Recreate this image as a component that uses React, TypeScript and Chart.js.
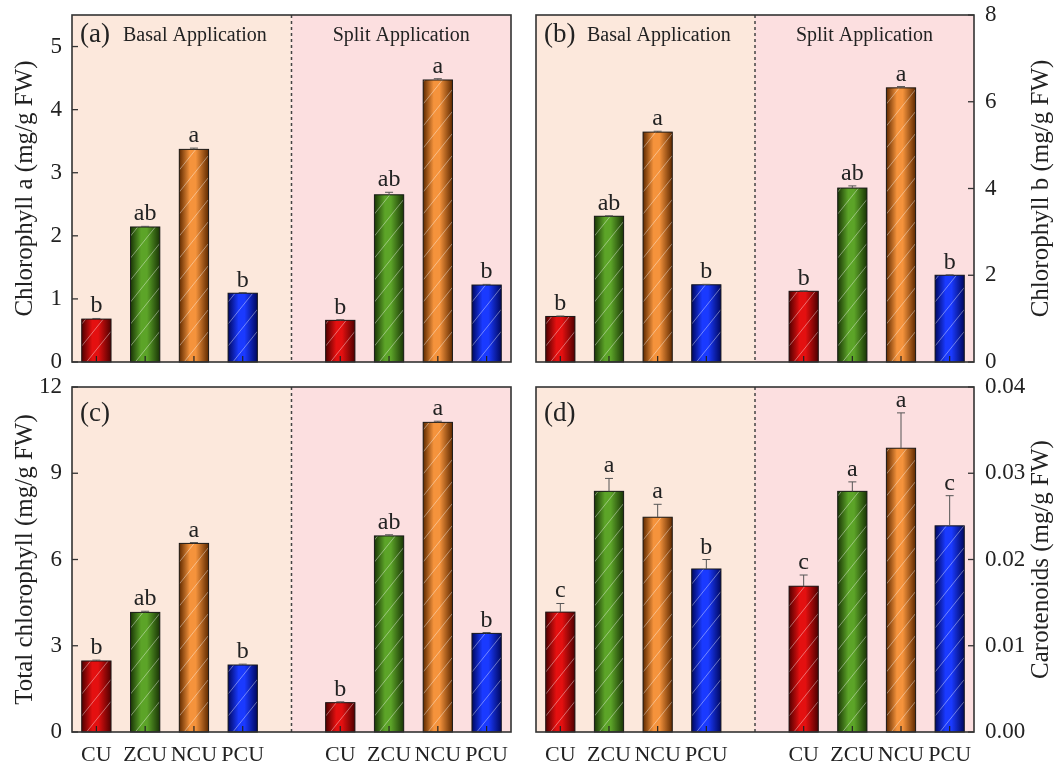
import { useEffect, useRef } from "react";
import { Chart, registerables } from "chart.js";

Chart.register(...registerables);

Chart.defaults.font.family = "'Liberation Serif', 'Times New Roman', serif";
Chart.defaults.color = "#222";

// x categories: basal group, empty spacer slot, split group
const categories = ["CU", "ZCU", "NCU", "PCU", "", "CU", "ZCU", "NCU", "PCU"];

// (a) chlorophyll a
const chlABasal = [0.68, 2.14, 3.37, 1.09];
const chlASplit = [0.66, 2.65, 4.47, 1.22];
const chlABasalErr = [0.01, 0.01, 0.02, 0.01];
const chlASplitErr = [0.01, 0.04, 0.02, 0.01];
const chlALetters = ["b", "ab", "a", "b", "b", "ab", "a", "b"];
const chlATicks = [0, 1, 2, 3, 4, 5];

// (b) chlorophyll b
const chlBBasal = [1.05, 3.36, 5.3, 1.78];
const chlBSplit = [1.63, 4.01, 6.32, 2.0];
const chlBBasalErr = [0.01, 0.01, 0.02, 0.01];
const chlBSplitErr = [0.01, 0.05, 0.03, 0.01];
const chlBLetters = ["b", "ab", "a", "b", "b", "ab", "a", "b"];
const chlBTicks = [0, 2, 4, 6, 8];

// (c) total chlorophyll
const totalBasal = [2.47, 4.16, 6.56, 2.33];
const totalSplit = [1.02, 6.82, 10.77, 3.43];
const totalBasalErr = [0.03, 0.04, 0.03, 0.03];
const totalSplitErr = [0.03, 0.04, 0.04, 0.03];
const totalLetters = ["b", "ab", "a", "b", "b", "ab", "a", "b"];
const totalTicks = [0, 3, 6, 9, 12];

// (d) carotenoids
const carBasal = [0.0139, 0.0279, 0.0249, 0.0189];
const carSplit = [0.0169, 0.0279, 0.0329, 0.0239];
const carBasalErr = [0.001, 0.0015, 0.0015, 0.0011];
const carSplitErr = [0.0013, 0.0011, 0.0041, 0.0035];
const carLetters = ["c", "a", "a", "b", "c", "a", "a", "c"];
const carTicks = [0, 0.01, 0.02, 0.03, 0.04];

const brightColors = ["#e41010", "#5ca428", "#f5933c", "#1a3aff"];
const darkColors = ["#500000", "#1a3606", "#602a00", "#000860"];
const basalBg = "#fce8dc";
const splitBg = "#fcdfe0";

type PanelSpec = {
  tag: string;
  title: string;
  basal: number[];
  split: number[];
  basalErr: number[];
  splitErr: number[];
  letters: string[];
  yMax: number;
  yTicks: number[];
  decimals: number;
  side: "left" | "right";
  headings: boolean;
  showX: boolean;
  left: number;
  top: number;
  width: number;
  height: number;
};

const panels: PanelSpec[] = [
  {
    tag: "(a)", title: "Chlorophyll a (mg/g FW)",
    basal: chlABasal, split: chlASplit, basalErr: chlABasalErr, splitErr: chlASplitErr,
    letters: chlALetters, yMax: 5.5, yTicks: chlATicks, decimals: 0,
    side: "left", headings: true, showX: false, left: 0, top: 0, width: 523, height: 375,
  },
  {
    tag: "(b)", title: "Chlorophyll b (mg/g FW)",
    basal: chlBBasal, split: chlBSplit, basalErr: chlBBasalErr, splitErr: chlBSplitErr,
    letters: chlBLetters, yMax: 8, yTicks: chlBTicks, decimals: 0,
    side: "right", headings: true, showX: false, left: 523, top: 0, width: 534, height: 375,
  },
  {
    tag: "(c)", title: "Total chlorophyll (mg/g FW)",
    basal: totalBasal, split: totalSplit, basalErr: totalBasalErr, splitErr: totalSplitErr,
    letters: totalLetters, yMax: 12, yTicks: totalTicks, decimals: 0,
    side: "left", headings: false, showX: true, left: 0, top: 375, width: 523, height: 392,
  },
  {
    tag: "(d)", title: "Carotenoids (mg/g FW)",
    basal: carBasal, split: carSplit, basalErr: carBasalErr, splitErr: carSplitErr,
    letters: carLetters, yMax: 0.04, yTicks: carTicks, decimals: 2,
    side: "right", headings: false, showX: true, left: 523, top: 375, width: 534, height: 392,
  },
];

function Panel({ spec }: { spec: PanelSpec }) {
  const canvasRef = useRef<HTMLCanvasElement>(null);

  useEffect(() => {
    if (!canvasRef.current) return;
    const values = [...spec.basal, null, ...spec.split];
    const errs = [...spec.basalErr, 0, ...spec.splitErr];
    const letters = [...spec.letters.slice(0, 4), "", ...spec.letters.slice(4)];
    const colors = [...brightColors, "transparent", ...brightColors];
    const isLeft = spec.side === "left";
    const topPad = spec.showX ? 12 : 15;
    const xHeight = spec.showX ? 35 : 13;

    const decor = {
      id: "panelDecor",
      beforeDraw(chart: Chart) {
        const { ctx, chartArea: a } = chart;
        const mid = chart.scales.x.getPixelForValue(4);
        ctx.save();
        ctx.fillStyle = basalBg;
        ctx.fillRect(a.left, a.top, mid - a.left, a.bottom - a.top);
        ctx.fillStyle = splitBg;
        ctx.fillRect(mid, a.top, a.right - mid, a.bottom - a.top);
        ctx.restore();
      },
      afterDatasetsDraw(chart: Chart) {
        const { ctx, chartArea: a } = chart;
        const yScale = chart.scales.y;
        const meta = chart.getDatasetMeta(0);
        ctx.save();
        meta.data.forEach((el: any, i: number) => {
          const v = values[i];
          if (v == null) return;
          const ci = i < 4 ? i : i - 5;
          const { x: cx, y: top, base, width } = el.getProps(["x", "y", "base", "width"], true);
          const l = cx - width / 2;
          const r = cx + width / 2;
          const h = base - top;

          // cylinder-like shading
          const g = ctx.createLinearGradient(l, 0, r, 0);
          g.addColorStop(0, darkColors[ci]);
          g.addColorStop(0.36, brightColors[ci]);
          g.addColorStop(0.56, brightColors[ci]);
          g.addColorStop(1, darkColors[ci]);
          ctx.fillStyle = g;
          ctx.fillRect(l, top, width, h);

          // white diagonal hatch
          ctx.save();
          ctx.beginPath();
          ctx.rect(l, top, width, h);
          ctx.clip();
          ctx.strokeStyle = "rgba(255,255,255,0.5)";
          ctx.lineWidth = 0.8;
          for (let k = 0; k < h + width * 1.3; k += 22) {
            ctx.beginPath();
            ctx.moveTo(l, base - k + 6);
            ctx.lineTo(r, base - k + 6 - width * 1.25);
            ctx.stroke();
          }
          ctx.restore();

          ctx.strokeStyle = "#1a1a1a";
          ctx.lineWidth = 1;
          ctx.strokeRect(l, top, width, h);

          // error bar
          const yTop = yScale.getPixelForValue(v + errs[i]);
          ctx.strokeStyle = "#555";
          ctx.lineWidth = 1;
          ctx.beginPath();
          ctx.moveTo(cx, top);
          ctx.lineTo(cx, yTop);
          ctx.moveTo(cx - 4, yTop);
          ctx.lineTo(cx + 4, yTop);
          ctx.stroke();

          // significance letter
          ctx.fillStyle = "#222";
          ctx.font = "24px 'Liberation Serif'";
          ctx.textAlign = "center";
          ctx.textBaseline = "alphabetic";
          ctx.fillText(letters[i], cx, yTop - 6);

          // inner x tick
          ctx.strokeStyle = "#222";
          ctx.lineWidth = 1.2;
          ctx.beginPath();
          ctx.moveTo(cx, a.bottom);
          ctx.lineTo(cx, a.bottom - 6);
          ctx.stroke();
        });
        ctx.restore();
      },
      afterDraw(chart: Chart) {
        const { ctx, chartArea: a } = chart;
        const yScale = chart.scales.y;
        const mid = chart.scales.x.getPixelForValue(4);
        ctx.save();

        // dashed separator
        ctx.strokeStyle = "#444";
        ctx.lineWidth = 1.5;
        ctx.setLineDash([3, 3]);
        ctx.beginPath();
        ctx.moveTo(mid, a.top);
        ctx.lineTo(mid, a.bottom);
        ctx.stroke();
        ctx.setLineDash([]);

        // inward y ticks
        ctx.strokeStyle = "#333";
        ctx.lineWidth = 1.3;
        spec.yTicks.forEach((t) => {
          const py = yScale.getPixelForValue(t);
          const x0 = isLeft ? a.left : a.right;
          const x1 = isLeft ? a.left + 6 : a.right - 6;
          ctx.beginPath();
          ctx.moveTo(x0, py);
          ctx.lineTo(x1, py);
          ctx.stroke();
        });

        // frame
        ctx.strokeStyle = "#333";
        ctx.lineWidth = 1.6;
        ctx.strokeRect(a.left, a.top, a.right - a.left, a.bottom - a.top);

        // panel tag and headings
        ctx.fillStyle = "#222";
        ctx.textBaseline = "middle";
        ctx.textAlign = "left";
        ctx.font = "27px 'Liberation Serif'";
        const tagY = a.top + (spec.headings ? 20 : 27);
        ctx.fillText(spec.tag, a.left + 8, tagY);
        if (spec.headings) {
          ctx.font = "20px 'Liberation Serif'";
          ctx.fillText("Basal Application", a.left + 51, tagY + 1);
          ctx.textAlign = "center";
          ctx.fillText("Split Application", (mid + a.right) / 2, tagY + 1);
        }

        // y axis title, reading bottom to top on both sides
        ctx.font = "25px 'Liberation Serif'";
        ctx.textAlign = "center";
        ctx.translate(isLeft ? 25 : 518, (a.top + a.bottom) / 2);
        ctx.rotate(-Math.PI / 2);
        ctx.fillText(spec.title, 0, 0);
        ctx.restore();
      },
    };

    const chart = new Chart(canvasRef.current, {
      type: "bar",
      data: {
        labels: categories,
        datasets: [
          {
            data: values,
            backgroundColor: colors,
            borderWidth: 0,
            barPercentage: 0.6,
            categoryPercentage: 1,
          },
        ],
      },
      options: {
        responsive: false,
        animation: false,
        events: [],
        layout: {
          padding: {
            left: isLeft ? 0 : 13,
            right: isLeft ? 12 : 0,
            top: topPad,
            bottom: 0,
          },
        },
        plugins: { legend: { display: false }, tooltip: { enabled: false } },
        scales: {
          x: {
            grid: { display: false, drawTicks: false },
            border: { display: false },
            ticks: {
              display: spec.showX,
              autoSkip: false,
              maxRotation: 0,
              padding: 12,
              color: "#222",
              font: { size: 22, lineHeight: 1 },
            },
            afterFit: (s: any) => {
              s.height = xHeight;
              s.paddingLeft = 0;
              s.paddingRight = 0;
            },
          },
          y: {
            position: spec.side,
            min: 0,
            max: spec.yMax,
            grid: { display: false, drawTicks: false },
            border: { display: false },
            ticks: {
              padding: isLeft ? 10 : 11,
              color: "#222",
              font: { size: 23, lineHeight: 1 },
              callback: (v: any) => Number(v).toFixed(spec.decimals),
            },
            afterBuildTicks: (s: any) => {
              s.ticks = spec.yTicks.map((value) => ({ value }));
            },
            afterFit: (s: any) => {
              s.width = isLeft ? 72 : 83;
              s.paddingTop = 0;
              s.paddingBottom = 0;
            },
          },
        },
      },
      plugins: [decor],
    });

    return () => {
      chart.destroy();
    };
  }, [spec]);

  return (
    <canvas
      ref={canvasRef}
      width={spec.width}
      height={spec.height}
      style={{ position: "absolute", left: spec.left, top: spec.top }}
    />
  );
}

export default function App() {
  return (
    <div
      style={{
        position: "absolute",
        left: 0,
        top: 0,
        width: 1057,
        height: 767,
        background: "#fff",
        overflow: "hidden",
      }}
    >
      {panels.map((p) => (
        <Panel key={p.tag} spec={p} />
      ))}
    </div>
  );
}
